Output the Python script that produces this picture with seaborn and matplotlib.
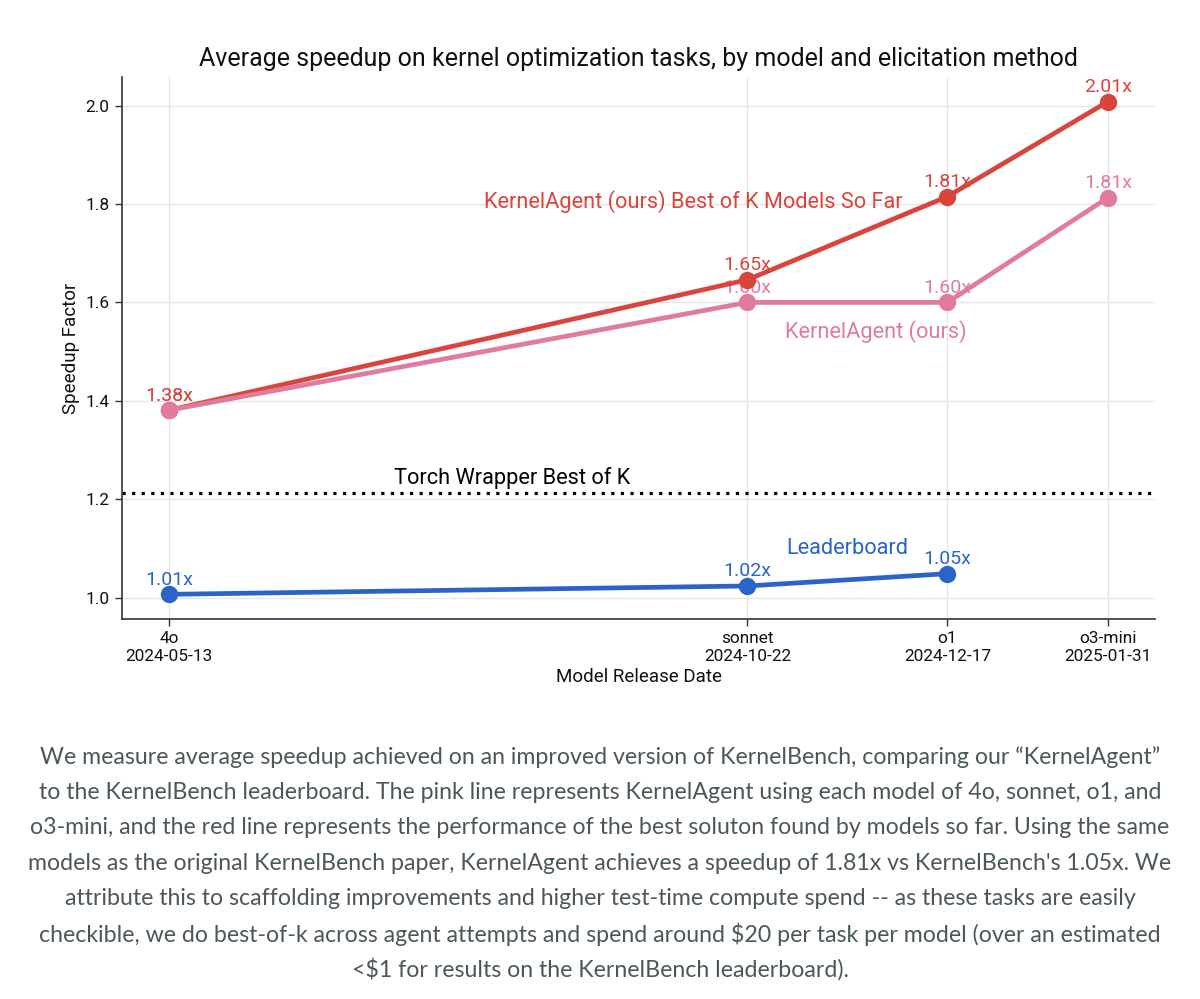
import matplotlib
matplotlib.use("Agg")
import matplotlib.pyplot as plt
import seaborn as sns
import pandas as pd

models = ["4o", "sonnet", "o1", "o3-mini"]
dates = ["2024-05-13", "2024-10-22", "2024-12-17", "2025-01-31"]
best_of_k = [1.381, 1.646, 1.815, 2.008]
kernel_agent = [1.381, 1.600, 1.600, 1.813]
leaderboard = [1.007, 1.024, 1.049]
torch_wrapper = 1.213

series_names = ["Leaderboard", "KernelAgent (ours) Best of K Models So Far", "KernelAgent (ours)"]
colors = {"Leaderboard": "#2a64c9",
          "KernelAgent (ours) Best of K Models So Far": "#d9453c",
          "KernelAgent (ours)": "#e07b9d"}

caption_lines = [
    "We measure average speedup achieved on an improved version of KernelBench, comparing our \u201cKernelAgent\u201d",
    "to the KernelBench leaderboard. The pink line represents KernelAgent using each model of 4o, sonnet, o1, and",
    "o3-mini, and the red line represents the performance of the best soluton found by models so far. Using the same",
    "models as the original KernelBench paper, KernelAgent achieves a speedup of 1.81x vs KernelBench's 1.05x. We",
    "attribute this to scaffolding improvements and higher test-time compute spend -- as these tasks are easily",
    "checkible, we do best-of-k across agent attempts and spend around $20 per task per model (over an estimated",
    "<$1 for results on the KernelBench leaderboard).",
]

dt = pd.to_datetime(dates)
rows = []
for d, v in zip(dt[:len(leaderboard)], leaderboard):
    rows.append(("Leaderboard", d, v))
for d, v in zip(dt, best_of_k):
    rows.append(("KernelAgent (ours) Best of K Models So Far", d, v))
for d, v in zip(dt, kernel_agent):
    rows.append(("KernelAgent (ours)", d, v))
df = pd.DataFrame(rows, columns=["series", "date", "speedup"])

sns.set_theme(style="white")
plt.rcParams["font.family"] = ["Roboto", "DejaVu Sans"]

fig = plt.figure(figsize=(12, 9.99), dpi=100)
ax = fig.add_axes([0.1017, 0.3804, 0.8608, 0.5426])

ax.grid(True, color="#e6e6e6", linewidth=1.0)
ax.set_axisbelow(True)

sns.lineplot(data=df, x="date", y="speedup", hue="series", hue_order=series_names,
             palette=colors, marker="o", markersize=12.5, markeredgewidth=0,
             linewidth=3.4, legend=False, ax=ax, zorder=3)

ax.axhline(torch_wrapper, color="black", linestyle=(0, (1, 2)), linewidth=2.3, zorder=2)

ax.margins(x=0.05, y=0.05)

# value annotations (drawn beneath the lines)
def annotate(xs, ys, color):
    for x, y in zip(xs, ys):
        ax.annotate(f"{y:.2f}x", (x, y), xytext=(0, 10.5), textcoords="offset points",
                    ha="center", va="center", fontsize=14, color=color, zorder=2.5)

annotate(dt[:len(leaderboard)], leaderboard, colors["Leaderboard"])
annotate(dt, kernel_agent, colors["KernelAgent (ours)"])
annotate(dt, best_of_k, colors["KernelAgent (ours) Best of K Models So Far"])

# series labels
lab_fs = 15.7
ax.text(dt[2] - pd.Timedelta(days=12.5), 1.805, "KernelAgent (ours) Best of K Models So Far",
        ha="right", va="center", fontsize=lab_fs, color=colors["KernelAgent (ours) Best of K Models So Far"])
ax.text(dt[2] + pd.Timedelta(days=5.5), 1.54, "KernelAgent (ours)",
        ha="right", va="center", fontsize=lab_fs, color=colors["KernelAgent (ours)"])
ax.text(dt[2] - pd.Timedelta(days=11), 1.101, "Leaderboard",
        ha="right", va="center", fontsize=lab_fs, color=colors["Leaderboard"])
ax.text(dt[0] + pd.Timedelta(days=63), torch_wrapper + 0.008, "Torch Wrapper Best of K",
        ha="left", va="bottom", fontsize=lab_fs, color="black")

ax.set_xticks(dt)
ax.set_xticklabels([f"{m}\n{d}" for m, d in zip(models, dates)], fontsize=12.4, color="#111111")
ax.set_yticks([1.0, 1.2, 1.4, 1.6, 1.8, 2.0])
ax.set_yticklabels([f"{v:.1f}" for v in [1.0, 1.2, 1.4, 1.6, 1.8, 2.0]], fontsize=12.4, color="#111111")
ax.tick_params(axis="both", which="both", direction="out", length=5, width=1, color="#333333",
               bottom=True, left=True, pad=4)

for s in ["top", "right"]:
    ax.spines[s].set_visible(False)
for s in ["left", "bottom"]:
    ax.spines[s].set_color("#333333")
    ax.spines[s].set_linewidth(1.2)

ax.set_xlabel("Model Release Date", fontsize=13.5, color="#111111", labelpad=3)
ax.set_ylabel("Speedup Factor", fontsize=13.5, color="#111111", labelpad=4)
ax.set_title("Average speedup on kernel optimization tasks, by model and elicitation method",
             fontsize=18, color="#111111", pad=8)

cap_y0 = 1 - 757 / 999
dy = 35.4 / 999
for i, line in enumerate(caption_lines):
    fig.text(0.5, cap_y0 - i * dy, line, ha="center", va="center", fontsize=16.65,
             color="#4b5a50", family=["Lato", "DejaVu Sans"])

fig.savefig("out.png", dpi=100)
